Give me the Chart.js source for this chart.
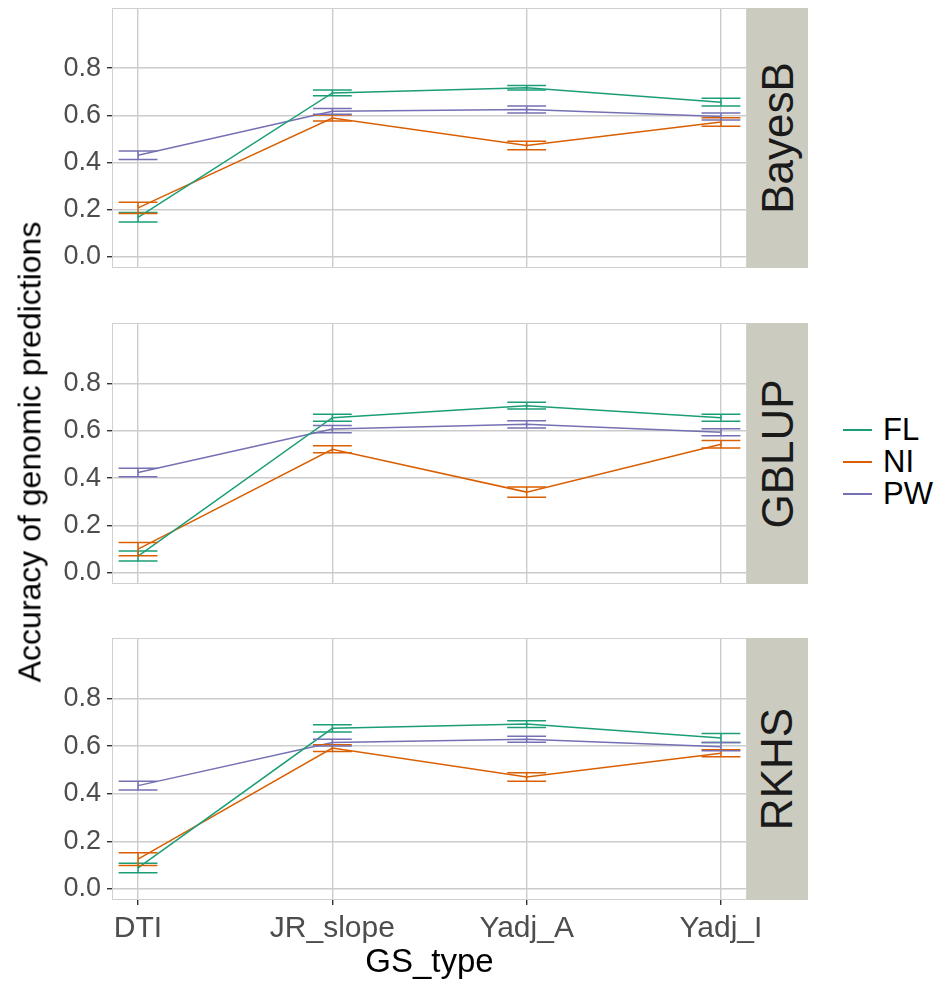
<!DOCTYPE html>
<html lang="en">
<head>
<meta charset="UTF-8">
<title>GS accuracy</title>
<script src="https://cdn.jsdelivr.net/npm/chart.js"></script>
<style>
body { margin: 0; background: #fff; font-family: 'Liberation Sans', Arial, sans-serif; }
#wrap { position: relative; width: 941px; height: 981px; overflow: hidden; }
.panel { position: absolute; left: 0; width: 808px; }
.strip {
    position: absolute; left: 747px; width: 61px; background: #cccbc0;
    display: flex; align-items: center; justify-content: center;
}
.strip span { transform: rotate(-90deg); font-size: 44px; color: #1a1a1a; white-space: nowrap; }
#ytitle {
    position: absolute; left: 30px; top: 452px; transform: translate(-50%, -50%) rotate(-90deg);
    font-size: 32px; color: #000; white-space: nowrap;
}
#legend { position: absolute; left: 843px; top: 414px; }
.leg { display: flex; align-items: center; height: 32px; }
.leg i { display: inline-block; width: 29px; height: 2px; margin-right: 11px; }
.leg span { font-size: 31px; color: #000; }
</style>
</head>
<body>
<div id="wrap">
    <div class="panel" style="top:0px;height:268px"><canvas id="c1"></canvas></div>
    <div class="panel" style="top:315px;height:269px"><canvas id="c2"></canvas></div>
    <div class="panel" style="top:630px;height:351px"><canvas id="c3"></canvas></div>
    <div class="strip" style="top:8px;height:260px"><span>BayesB</span></div>
    <div class="strip" style="top:323px;height:261px"><span>GBLUP</span></div>
    <div class="strip" style="top:638px;height:262px"><span>RKHS</span></div>
    <div id="ytitle">Accuracy of genomic predictions</div>
    <div id="legend"></div>
</div>

<script>
// categories and ticks
const categories = ["DTI", "JR_slope", "Yadj_A", "Yadj_I"];
const yTicks = [0, 0.2, 0.4, 0.6, 0.8];
const seriesNames = ["FL", "NI", "PW"];
const seriesColors = ["#1b9e77", "#d95f02", "#7570b3"];

// BayesB
const bayesB_FL = [0.168, 0.695, 0.717, 0.656];
const bayesB_FL_err = [0.020, 0.012, 0.010, 0.016];
const bayesB_NI = [0.208, 0.589, 0.472, 0.572];
const bayesB_NI_err = [0.024, 0.013, 0.018, 0.018];
const bayesB_PW = [0.431, 0.617, 0.625, 0.595];
const bayesB_PW_err = [0.018, 0.012, 0.015, 0.015];

// GBLUP
const gblup_FL = [0.071, 0.655, 0.706, 0.655];
const gblup_FL_err = [0.021, 0.015, 0.014, 0.015];
const gblup_NI = [0.100, 0.522, 0.341, 0.543];
const gblup_NI_err = [0.028, 0.015, 0.022, 0.016];
const gblup_PW = [0.424, 0.607, 0.627, 0.594];
const gblup_PW_err = [0.018, 0.015, 0.015, 0.015];

// RKHS
const rkhs_FL = [0.088, 0.675, 0.693, 0.634];
const rkhs_FL_err = [0.020, 0.015, 0.014, 0.019];
const rkhs_NI = [0.125, 0.592, 0.470, 0.570];
const rkhs_NI_err = [0.027, 0.014, 0.018, 0.015];
const rkhs_PW = [0.434, 0.615, 0.629, 0.598];
const rkhs_PW_err = [0.018, 0.014, 0.013, 0.017];

const FONT = "'Liberation Sans', Arial, sans-serif";

// legend
let legendHtml = "";
seriesNames.forEach(function (n, i) {
    legendHtml += '<div class="leg"><i style="background:' + seriesColors[i] + '"></i><span>' + n + '</span></div>';
});
document.getElementById("legend").innerHTML = legendHtml;

// draws error bars + panel border
const errorBars = {
    id: 'errorBars',
    afterDatasetsDraw(chart) {
        const ctx = chart.ctx;
        const xs = chart.scales.x, ys = chart.scales.y;
        chart.data.datasets.forEach(function (ds) {
            ctx.save();
            ctx.strokeStyle = ds.borderColor;
            ctx.lineWidth = 1.5;
            ds.data.forEach(function (p, i) {
                const e = ds.err[i];
                const x = xs.getPixelForValue(p.x);
                const hw = xs.getPixelForValue(p.x + 0.1) - x;
                const yHi = ys.getPixelForValue(p.y + e);
                const yLo = ys.getPixelForValue(p.y - e);
                ctx.beginPath();
                ctx.moveTo(x - hw, yHi); ctx.lineTo(x + hw, yHi);
                ctx.moveTo(x, yHi); ctx.lineTo(x, yLo);
                ctx.moveTo(x - hw, yLo); ctx.lineTo(x + hw, yLo);
                ctx.stroke();
            });
            ctx.restore();
        });
        const a = chart.chartArea;
        ctx.save();
        ctx.strokeStyle = '#d0d0d0';
        ctx.lineWidth = 1;
        ctx.strokeRect(a.left + 0.5, a.top + 0.5, a.right - a.left - 1, a.bottom - a.top - 1);
        ctx.restore();
    }
};

function makePanel(id, fl, flErr, ni, niErr, pw, pwErr, bottom) {
    const vals = [fl, ni, pw];
    const errs = [flErr, niErr, pwErr];
    const datasets = seriesNames.map(function (n, s) {
        return {
            label: n,
            data: categories.map(function (c, i) { return { x: i, y: vals[s][i] }; }),
            err: errs[s],
            borderColor: seriesColors[s],
            backgroundColor: seriesColors[s],
            borderWidth: 1.5,
            pointRadius: 0,
            tension: 0
        };
    });
    new Chart(document.getElementById(id), {
        type: 'line',
        data: { datasets: datasets },
        options: {
            responsive: true,
            maintainAspectRatio: false,
            animation: false,
            layout: { padding: { top: 8, right: 61, bottom: 0, left: 0 } },
            plugins: { legend: { display: false }, tooltip: { enabled: false } },
            scales: {
                x: {
                    type: 'linear',
                    min: -0.134,
                    max: 3.134,
                    afterBuildTicks: function (scale) {
                        scale.ticks = categories.map(function (c, i) { return { value: i }; });
                    },
                    afterFit: function (scale) {
                        scale.height = bottom ? 81 : 0;
                        scale.paddingLeft = 0; scale.paddingRight = 0;
                        scale.paddingTop = 0; scale.paddingBottom = 0;
                    },
                    grid: { color: '#cccccc', lineWidth: 1.4, drawTicks: bottom, tickLength: 5, tickColor: '#333333' },
                    border: { display: false },
                    ticks: {
                        display: bottom,
                        padding: 6,
                        maxRotation: 0,
                        autoSkip: false,
                        color: '#4d4d4d',
                        font: { family: FONT, size: 30 },
                        callback: function (v) { return categories[v]; }
                    },
                    title: {
                        display: bottom,
                        text: 'GS_type',
                        color: '#000',
                        font: { family: FONT, size: 33 },
                        padding: { top: 0, bottom: -2 }
                    }
                },
                y: {
                    min: -0.047,
                    max: 1.055,
                    afterBuildTicks: function (scale) {
                        scale.ticks = yTicks.map(function (v) { return { value: v }; });
                    },
                    afterFit: function (scale) {
                        scale.width = 112;
                        scale.paddingTop = 0; scale.paddingBottom = 0;
                        scale.paddingLeft = 0; scale.paddingRight = 0;
                    },
                    grid: { color: '#cccccc', lineWidth: 1.4, tickLength: 5, tickColor: '#333333' },
                    border: { display: false },
                    ticks: {
                        padding: 6,
                        color: '#4d4d4d',
                        font: { family: FONT, size: 27 },
                        callback: function (v) { return v.toFixed(1); }
                    }
                }
            }
        },
        plugins: [errorBars]
    });
}

makePanel('c1', bayesB_FL, bayesB_FL_err, bayesB_NI, bayesB_NI_err, bayesB_PW, bayesB_PW_err, false);
makePanel('c2', gblup_FL, gblup_FL_err, gblup_NI, gblup_NI_err, gblup_PW, gblup_PW_err, false);
makePanel('c3', rkhs_FL, rkhs_FL_err, rkhs_NI, rkhs_NI_err, rkhs_PW, rkhs_PW_err, true);
</script>
</body>
</html>
